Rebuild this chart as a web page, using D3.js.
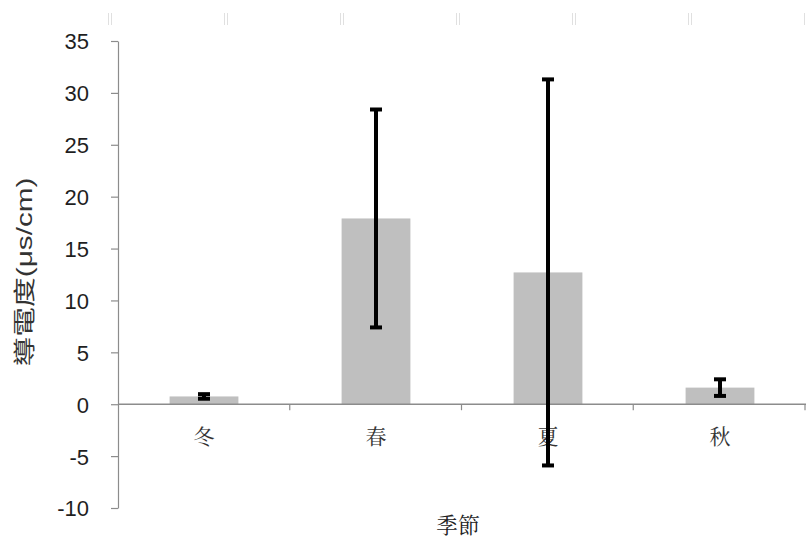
<!DOCTYPE html>
<html>
<head>
<meta charset="utf-8">
<script src="https://cdn.jsdelivr.net/npm/d3@7"></script>
<style>
  html, body { margin: 0; padding: 0; background: #fff; }
  svg { display: block; }
</style>
</head>
<body>
<svg id="chart" width="807" height="546"></svg>
<script>
// Seasonal conductivity: mean and error (± one deviation)
const seasons = ["冬", "春", "夏", "秋"];
const means = [0.75, 17.9, 12.7, 1.6];
const errors = [0.22, 10.5, 18.6, 0.8];
const yTicks = [-10, -5, 0, 5, 10, 15, 20, 25, 30, 35];
const yTitle = "導電度(μs/cm)";
const xTitle = "季節";

const W = 807, H = 546;
const margin = { left: 118, right: 1, top: 41, bottom: 38 };

const svg = d3.select("#chart");

const x = d3.scaleBand()
  .domain(seasons)
  .range([margin.left, W - margin.right])
  .paddingInner(0.6)
  .paddingOuter(0.3);

const y = d3.scaleLinear()
  .domain([-10, 35])
  .range([H - margin.bottom, margin.top]);

const axisColor = "#8c8c8c";

// Faint tick marks along the top edge
const topScale = d3.scaleLinear().domain([0, 6]).range([110, 806]);
const topG = svg.append("g").attr("stroke", "#e0e0e0").attr("stroke-width", 1);
d3.range(7).forEach(i => {
  [-1.5, 1.5].forEach(dx => {
    topG.append("line")
      .attr("x1", topScale(i) + dx).attr("x2", topScale(i) + dx)
      .attr("y1", 13).attr("y2", 25);
  });
});

// Bars
svg.append("g").selectAll("rect")
  .data(seasons)
  .join("rect")
  .attr("x", d => x(d))
  .attr("width", x.bandwidth())
  .attr("y", (d, i) => y(Math.max(0, means[i])))
  .attr("height", (d, i) => Math.abs(y(means[i]) - y(0)))
  .attr("fill", "#bfbfbf");

// Y axis
const yAxis = svg.append("g")
  .attr("transform", `translate(${margin.left},0)`)
  .call(d3.axisLeft(y)
    .tickValues(yTicks)
    .tickFormat(d => String(d))
    .tickSize(7).tickPadding(22).tickSizeOuter(0));
yAxis.select(".domain").attr("stroke", axisColor).attr("stroke-width", 1.2);
yAxis.selectAll(".tick line").attr("stroke", axisColor).attr("stroke-width", 1.2);
yAxis.selectAll(".tick text")
  .attr("fill", "#1f1f1f")
  .attr("dy", "0.36em")
  .style("font-family", "'Liberation Sans', Arial, sans-serif")
  .style("font-size", "22px");

// X axis along zero, ticks at category boundaries
const xEdge = d3.scaleLinear().domain([0, seasons.length]).range([margin.left, W - margin.right - 1]);
const xg = svg.append("g");
xg.append("line")
  .attr("x1", margin.left).attr("x2", W - 1)
  .attr("y1", y(0)).attr("y2", y(0))
  .attr("stroke", axisColor).attr("stroke-width", 1.5);
xg.selectAll("line.tk")
  .data(d3.range(1, seasons.length + 1))
  .join("line")
  .attr("class", "tk")
  .attr("x1", d => xEdge(d)).attr("x2", d => xEdge(d))
  .attr("y1", y(0)).attr("y2", y(0) + 6)
  .attr("stroke", axisColor).attr("stroke-width", 1.2);

// Category labels
svg.append("g").selectAll("text")
  .data(seasons)
  .join("text")
  .attr("x", d => x(d) + x.bandwidth() / 2)
  .attr("y", y(0) + 40)
  .attr("text-anchor", "middle")
  .attr("fill", "#333")
  .style("font-family", "'Noto Serif CJK TC', 'Noto Sans CJK TC', serif")
  .style("font-size", "21px")
  .text(d => d);

// Error bars
const eg = svg.append("g").selectAll("g")
  .data(seasons)
  .join("g");
eg.append("line")
  .attr("x1", d => x(d) + x.bandwidth() / 2)
  .attr("x2", d => x(d) + x.bandwidth() / 2)
  .attr("y1", (d, i) => y(means[i] + errors[i]))
  .attr("y2", (d, i) => y(means[i] - errors[i]))
  .attr("stroke", "#000").attr("stroke-width", 4);
[1, -1].forEach(s => {
  eg.append("line")
    .attr("x1", d => x(d) + x.bandwidth() / 2 - 6)
    .attr("x2", d => x(d) + x.bandwidth() / 2 + 6)
    .attr("y1", (d, i) => y(means[i] + s * errors[i]))
    .attr("y2", (d, i) => y(means[i] + s * errors[i]))
    .attr("stroke", "#000").attr("stroke-width", 4);
});

// Axis titles
svg.append("text")
  .attr("transform", "translate(32,272) rotate(-90)")
  .attr("text-anchor", "middle")
  .attr("fill", "#333")
  .attr("textLength", 189)
  .attr("lengthAdjust", "spacingAndGlyphs")
  .style("font-family", "'Liberation Sans', 'Noto Sans CJK TC', sans-serif")
  .style("font-size", "22px")
  .text(yTitle);

svg.append("text")
  .attr("x", 458)
  .attr("y", H - 13)
  .attr("text-anchor", "middle")
  .attr("fill", "#222")
  .style("font-family", "'Noto Serif CJK TC', 'Noto Sans CJK TC', serif")
  .style("font-size", "22px")
  .text(xTitle);
</script>
</body>
</html>
